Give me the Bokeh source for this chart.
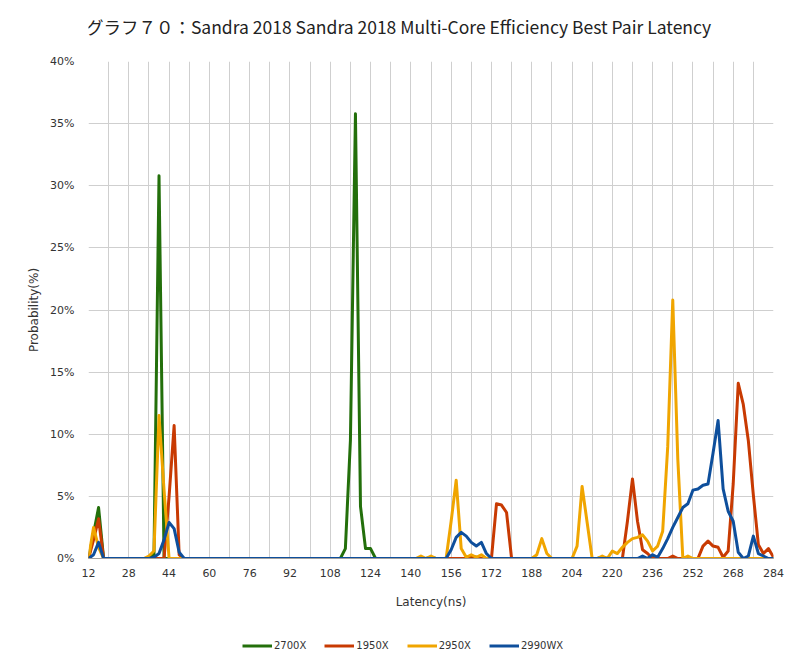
from bokeh.plotting import figure
from bokeh.layouts import column
from bokeh.models import FixedTicker, PrintfTickFormatter, Legend, LegendItem, Range1d
from bokeh.core.properties import value
from bokeh.embed import file_html
from bokeh.resources import INLINE

# Latency categories (ns), step 2 from 12 to 284
latency = list(range(12, 286, 2))

# Probability (%) per series, one row per 16 ns (8 points)
s_2700x = [
    0, 2.0, 4.1, 0, 0, 0, 0, 0,          # 12-26
    0, 0, 0, 0, 0, 0.3, 30.8, 0,         # 28-42
    0, 0, 0, 0, 0, 0, 0, 0,              # 44-58
    0, 0, 0, 0, 0, 0, 0, 0,              # 60-74
    0, 0, 0, 0, 0, 0, 0, 0,              # 76-90
    0, 0, 0, 0, 0, 0, 0, 0,              # 92-106
    0, 0, 0, 0.8, 9.5, 35.8, 4.2, 0.8,   # 108-122
    0.8, 0, 0, 0, 0, 0, 0, 0,            # 124-138
    0, 0, 0, 0, 0.1, 0, 0, 0,            # 140-154
    0, 0, 0, 0, 0, 0, 0, 0,              # 156-170
    0, 0, 0, 0, 0, 0, 0, 0,              # 172-186
    0, 0, 0, 0, 0, 0, 0, 0,              # 188-202
    0, 0, 0, 0, 0, 0, 0.1, 0,            # 204-218
    0, 0, 0, 0, 0, 0, 0, 0,              # 220-234
    0.1, 0, 0, 0, 0, 0, 0, 0,            # 236-250
    0, 0, 0, 0, 0, 0, 0, 0,              # 252-266
    0, 0, 0, 0, 0, 0, 0, 0,              # 268-282
    0,                                   # 284
]
s_1950x = [
    0, 1.5, 3.2, 0, 0, 0, 0, 0,
    0, 0, 0, 0, 0, 0, 0, 0,
    5.0, 10.7, 0.3, 0, 0, 0, 0, 0,
    0, 0, 0, 0, 0, 0, 0, 0,
    0, 0, 0, 0, 0, 0, 0, 0,
    0, 0, 0, 0, 0, 0, 0, 0,
    0, 0, 0, 0, 0, 0, 0, 0,
    0, 0, 0, 0, 0, 0, 0, 0,
    0, 0, 0, 0, 0, 0, 0, 0,
    0, 0, 0, 0, 0.2, 0.1, 0, 0,
    0, 4.4, 4.3, 3.7, 0, 0, 0, 0,
    0, 0, 0, 0, 0, 0, 0, 0,
    0, 0, 0, 0, 0, 0, 0, 0,
    0, 0, 0, 3.0, 6.4, 3.0, 0.7, 0.4,
    0, 0, 0, 0, 0.2, 0, 0, 0,
    0, 0, 1.0, 1.4, 1.0, 0.9, 0.1, 0.6,
    6.0, 14.1, 12.4, 9.5, 5.1, 1.1, 0.4, 0.8,
    0.1,
]
s_2950x = [
    0, 2.5, 0.9, 0, 0, 0, 0, 0,
    0, 0, 0, 0, 0.2, 0.6, 11.5, 5.5,
    0, 0, 0, 0, 0, 0, 0, 0,
    0, 0, 0, 0, 0, 0, 0, 0,
    0, 0, 0, 0, 0, 0, 0, 0,
    0, 0, 0, 0, 0, 0, 0, 0,
    0, 0, 0, 0, 0, 0, 0, 0,
    0, 0, 0, 0, 0, 0, 0, 0,
    0, 0, 0.2, 0, 0.2, 0, 0, 0,
    3.0, 6.3, 0.8, 0.1, 0.3, 0.1, 0.3, 0,
    0, 0, 0, 0, 0, 0, 0, 0,
    0, 0.3, 1.6, 0.4, 0, 0, 0, 0,
    0, 1.0, 5.8, 2.9, 0, 0, 0.2, 0,
    0.6, 0.4, 0.9, 1.3, 1.6, 1.7, 1.9, 1.4,
    0.6, 1.0, 2.2, 9.0, 20.8, 8.0, 0, 0.2,
    0, 0, 0, 0, 0, 0, 0, 0,
    0, 0, 0, 0, 0, 0, 0, 0,
    0,
]
s_2990wx = [
    0, 0.3, 1.3, 0, 0, 0, 0, 0,
    0, 0, 0, 0, 0, 0.1, 0.4, 1.5,
    2.9, 2.4, 0.5, 0, 0, 0, 0, 0,
    0, 0, 0, 0, 0, 0, 0, 0,
    0, 0, 0, 0, 0, 0, 0, 0,
    0, 0, 0, 0, 0, 0, 0, 0,
    0, 0, 0, 0, 0, 0, 0, 0,
    0, 0, 0, 0, 0, 0, 0, 0,
    0, 0, 0, 0, 0, 0, 0, 0,
    0.7, 1.7, 2.1, 1.8, 1.3, 1.0, 1.3, 0.4,
    0, 0, 0, 0, 0, 0, 0, 0,
    0, 0, 0, 0, 0, 0, 0, 0,
    0, 0, 0, 0, 0, 0, 0, 0,
    0, 0, 0, 0, 0, 0, 0.2, 0,
    0.3, 0.1, 0.8, 1.6, 2.5, 3.3, 4.1, 4.4,
    5.5, 5.6, 5.9, 6.0, 8.5, 11.1, 5.6, 3.8,
    3.0, 0.5, 0, 0.2, 1.8, 0.4, 0.2, 0,
    0,
]

series_names = ["2700X", "1950X", "2950X", "2990WX"]
series_values = [s_2700x, s_1950x, s_2950x, s_2990wx]
series_colors = ["#236f0b", "#c83a02", "#f0a500", "#0e4f9c"]

x_tick_labels = list(range(12, 285, 16))
y_ticks = [0, 5, 10, 15, 20, 25, 30, 35, 40]

title_text = "グラフ７０：Sandra 2018 Sandra 2018  Multi-Core Efficiency Best Pair Latency"

LEFT, RIGHT, FW = 88, 27, 685


def strip_figure(h):
    # frame aligned with the main chart; x data units equal page pixels
    f = figure(frame_width=FW, frame_height=h, output_backend="svg", toolbar_location=None,
               x_range=Range1d(LEFT, LEFT + FW), y_range=Range1d(0, h),
               min_border_left=LEFT, min_border_right=RIGHT,
               min_border_top=0, min_border_bottom=0,
               x_axis_location=None, y_axis_location=None)
    f.grid.visible = False
    f.outline_line_color = None
    f.background_fill_color = "white"
    f.border_fill_color = "white"
    return f


# ---- title strip ----
TH = 51
pt = strip_figure(TH)
pt.text(x=[400], y=[TH - 26], text=[title_text], text_align="center",
        text_baseline="middle", text_font=value("Noto Sans CJK JP"),
        text_font_size="17.5px", text_color="#222222")

# ---- main chart ----
p = figure(frame_width=FW, frame_height=497, output_backend="svg", toolbar_location=None,
           x_range=Range1d(12, 284), y_range=Range1d(0, 40),
           min_border_left=LEFT, min_border_right=RIGHT, min_border_top=10, min_border_bottom=53)
p.outline_line_color = None
p.background_fill_color = "white"
p.border_fill_color = "white"

p.xaxis.ticker = FixedTicker(ticks=x_tick_labels)
p.yaxis.ticker = FixedTicker(ticks=y_ticks)
p.yaxis.formatter = PrintfTickFormatter(format="%d%%")
for ax in (p.xaxis[0], p.yaxis[0]):
    ax.major_tick_line_color = None
    ax.minor_tick_line_color = None
    ax.major_label_text_font = "DejaVu Sans"
    ax.major_label_text_font_size = "11px"
    ax.major_label_text_color = "#333333"
    ax.axis_label_text_font = "DejaVu Sans"
    ax.axis_label_text_font_size = "12px"
    ax.axis_label_text_font_style = "normal"
    ax.axis_label_text_color = "#333333"
p.xaxis.axis_line_color = "#a0a0a0"
p.yaxis.axis_line_color = None
p.xaxis.axis_label = "Latency(ns)"
p.yaxis.axis_label = "Probability(%)"
p.xaxis.major_label_standoff = 4
p.yaxis.major_label_standoff = 8
p.xaxis.axis_label_standoff = 15
p.yaxis.axis_label_standoff = 6

p.xgrid.ticker = FixedTicker(ticks=list(range(12, 285, 8)))
p.xgrid.grid_line_color = "#cfcfcf"
p.ygrid.grid_line_color = "#cfcfcf"

for name, vals, col in zip(series_names, series_values, series_colors):
    p.line(latency, vals, line_color=col, line_width=3, line_join="round")

# ---- legend strip ----
LH = 58
pl = strip_figure(LH)
items = []
for name, col in zip(series_names, series_colors):
    # off-screen stand-in line, used only for the legend swatch
    r = pl.line([-500, -400], [-50, -50], line_color=col, line_width=3)
    items.append(LegendItem(label=name, renderers=[r]))
legend = Legend(items=items, orientation="horizontal", location=(242 - LEFT, 16),
                glyph_width=30, glyph_height=15, label_standoff=2, spacing=18,
                label_text_font="DejaVu Sans", label_text_font_size="10px",
                label_text_color="#333333",
                border_line_color=None, background_fill_alpha=0,
                margin=0, padding=5)
pl.add_layout(legend, "center")

layout = column(pt, p, pl, spacing=0)
open("out.html", "w").write(file_html(layout, INLINE))
